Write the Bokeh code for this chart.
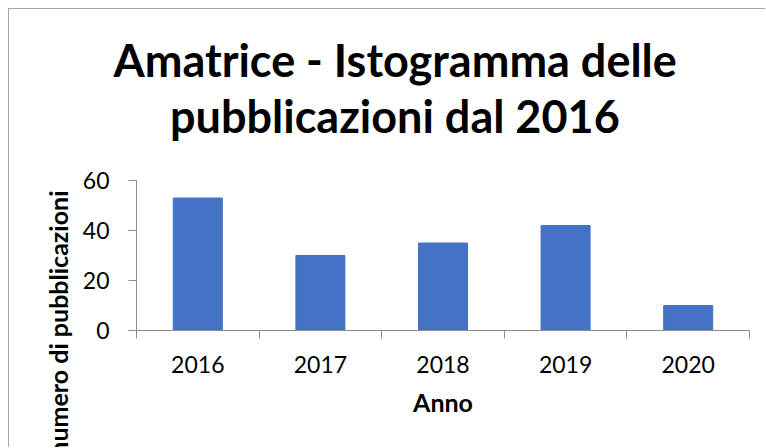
from bokeh.plotting import figure
from bokeh.models import Range1d, FixedTicker, Title
from bokeh.embed import file_html
from bokeh.resources import INLINE

years = ["2016", "2017", "2018", "2019", "2020"]
counts = [53, 30, 35, 42, 10]
y_ticks = [0, 20, 40, 60]
y_max = 60
title_lines = ["Amatrice - Istogramma delle", "pubblicazioni dal 2016"]
x_label = "Anno"
y_label = "numero di pubblicazioni"

positions = [i + 0.5 for i in range(len(years))]
boundaries = list(range(len(years) + 1))

AXIS = "#8c8c8c"
BAR = "#4472C4"
FONT = "Lato"

p = figure(width=757, height=439, output_backend="svg", toolbar_location=None,
           x_range=Range1d(0, len(years)), y_range=Range1d(0, y_max),
           min_border_left=127, min_border_right=17, min_border_top=171,
           min_border_bottom=118)
p.styles = {"margin-left": "8px", "margin-top": "8px",
            "border-left": "1px solid #a6a6a6", "border-top": "1px solid #a6a6a6"}
p.outline_line_color = None
p.xgrid.grid_line_color = None
p.ygrid.grid_line_color = None
p.background_fill_color = "white"
p.border_fill_color = "white"

p.vbar(x=positions, top=counts, width=0.4, fill_color=BAR, line_color=BAR)

xa = p.xaxis[0]
xa.ticker = FixedTicker(ticks=positions, minor_ticks=boundaries)
xa.major_label_overrides = {pos: yr for pos, yr in zip(positions, years)}
xa.major_tick_out = 0
xa.major_tick_in = 0
xa.minor_tick_out = 8
xa.minor_tick_in = 0
xa.minor_tick_line_color = AXIS
xa.axis_line_color = AXIS
xa.major_label_text_font = FONT
xa.major_label_text_font_size = "23px"
xa.major_label_text_color = "black"
xa.major_label_standoff = 17
xa.axis_label = x_label
xa.axis_label_text_font = FONT
xa.axis_label_text_font_style = "bold"
xa.axis_label_text_font_size = "25px"
xa.axis_label_text_color = "black"
xa.axis_label_standoff = 11

ya = p.yaxis[0]
ya.ticker = FixedTicker(ticks=y_ticks, minor_ticks=[])
ya.major_tick_out = 8
ya.major_tick_in = 0
ya.major_tick_line_color = AXIS
ya.axis_line_color = AXIS
ya.major_label_text_font = FONT
ya.major_label_text_font_size = "23px"
ya.major_label_text_color = "black"
ya.major_label_standoff = 19

# y label as a left-side title so it can be anchored near the top of the frame
p.add_layout(Title(text=y_label, align="right", offset=10, standoff=13,
                   text_font=FONT, text_font_style="bold", text_font_size="25px",
                   text_color="black"), "left")

# spacer between plot and title, then the title lines (closest first)
p.add_layout(Title(text=" ", standoff=34, text_font_size="2px"), "above")
p.add_layout(Title(text=title_lines[1], align="left", offset=33.5, standoff=0,
                   text_font=FONT, text_font_style="bold", text_font_size="45px",
                   text_color="black"), "above")
p.add_layout(Title(text=title_lines[0], align="left", offset=-23, standoff=0,
                   text_font=FONT, text_font_style="bold", text_font_size="45px",
                   text_color="black"), "above")

open("out.html", "w").write(file_html(p, INLINE))
